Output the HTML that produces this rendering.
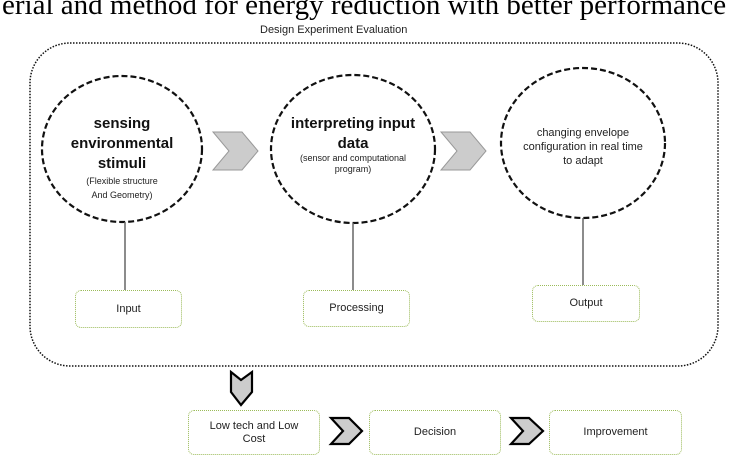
<!DOCTYPE html>
<html><head><style>
body{margin:0;width:732px;height:466px;background:#fff;overflow:hidden;position:relative;font-family:"Liberation Sans",sans-serif}
.t{position:absolute;white-space:nowrap}
.box{position:absolute;border:1.5px dotted #9bbb59;border-radius:6px;box-sizing:border-box;display:flex;align-items:center;justify-content:center;text-align:center;font-size:11px;color:#222;line-height:13px}
</style></head><body>
<div class="t" style="left:2px;top:-11px;font-family:'Liberation Serif',serif;font-size:29px;color:#000">erial and method for energy reduction with better performance</div>
<div class="t" style="left:260px;top:24px;font-size:11px;color:#222">Design Experiment Evaluation</div>
<svg width="732" height="466" style="position:absolute;left:0;top:0">
<rect x="30" y="43" width="688" height="323" rx="40" fill="none" stroke="#111" stroke-width="1.5" stroke-dasharray="1.5,1.5"/>
<g fill="none" stroke="#111" stroke-width="2.2" stroke-dasharray="6,3">
<ellipse cx="122" cy="149" rx="80" ry="73"/>
<ellipse cx="353" cy="149" rx="82" ry="74"/>
<ellipse cx="583" cy="143" rx="82" ry="75"/>
</g>
<g stroke="#666" stroke-width="1.5">
<line x1="125" y1="222" x2="125" y2="290"/>
<line x1="353" y1="223" x2="353" y2="290"/>
<line x1="583" y1="218" x2="583" y2="285"/>
</g>
<g fill="#ccc" stroke="#999" stroke-width="1">
<polygon points="213,132 242,132 258,151 242,170 213,170 229,151"/>
<polygon points="441,132 470,132 486,151 470,170 441,170 457,151"/>
</g>
<g fill="#ccc" stroke="#000" stroke-width="2.2">
<polygon points="231,372 241,380 252,372 252,392 241,405 231,392"/>
<polygon points="331,418 349,418 362,431 349,444 331,444 343,431"/>
<polygon points="511,418 529,418 543,431 529,444 511,444 523,431"/>
</g>
</svg>
<div class="t" style="left:42px;top:114px;width:160px;text-align:center;font-size:15px;font-weight:bold;line-height:20px;color:#111">sensing<br>environmental<br>stimuli</div>
<div class="t" style="left:42px;top:174px;width:160px;text-align:center;font-size:9px;line-height:14px;color:#222">(Flexible structure<br>And Geometry)</div>
<div class="t" style="left:271px;top:114px;width:164px;text-align:center;font-size:15px;font-weight:bold;line-height:20px;color:#111">interpreting input<br>data</div>
<div class="t" style="left:271px;top:153px;width:164px;text-align:center;font-size:9px;line-height:11px;color:#222">(sensor and computational<br>program)</div>
<div class="t" style="left:501px;top:126px;width:164px;text-align:center;font-size:11px;line-height:14px;color:#222">changing envelope<br>configuration in real time<br>to adapt</div>
<div class="box" style="left:75px;top:290px;width:107px;height:38px">Input</div>
<div class="box" style="left:303px;top:290px;width:107px;height:37px">Processing</div>
<div class="box" style="left:532px;top:285px;width:108px;height:37px">Output</div>
<div class="box" style="left:188px;top:410px;width:132px;height:45px">Low tech and Low<br>Cost</div>
<div class="box" style="left:369px;top:410px;width:132px;height:45px">Decision</div>
<div class="box" style="left:549px;top:410px;width:133px;height:45px">Improvement</div>
</body></html>
